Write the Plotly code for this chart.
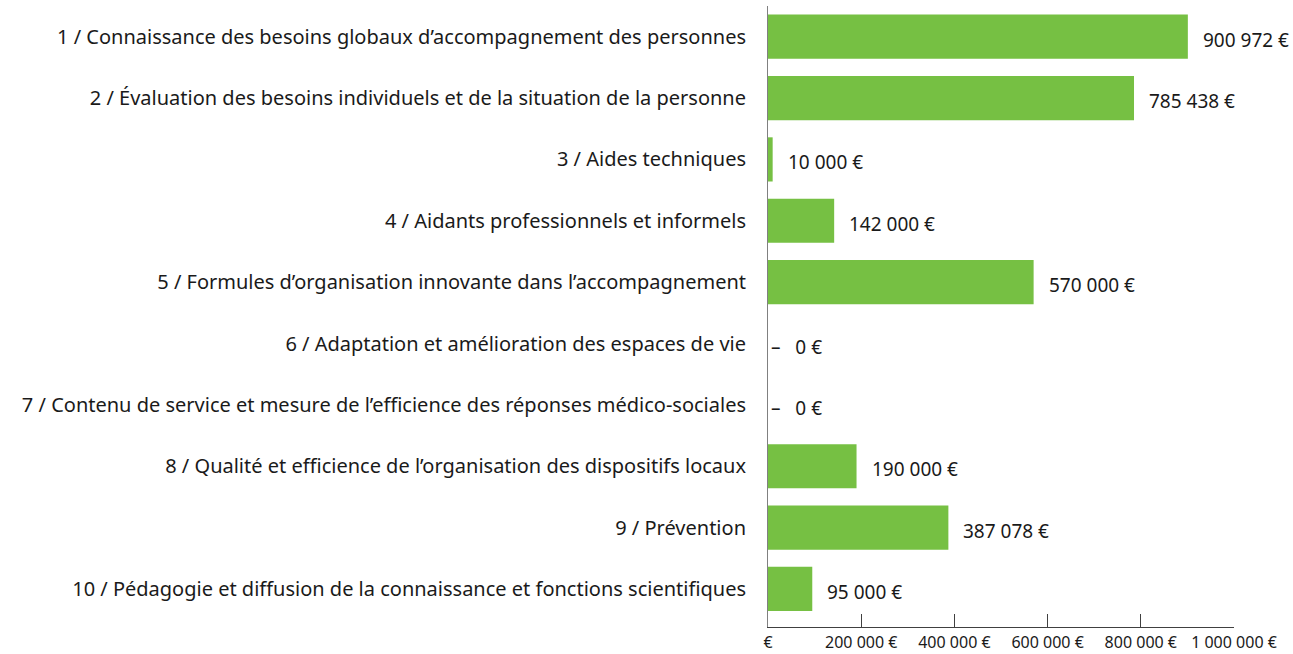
import plotly.graph_objects as go

categories = [
    "1 / Connaissance des besoins globaux d’accompagnement des personnes",
    "2 / Évaluation des besoins individuels et de la situation de la personne",
    "3 / Aides techniques",
    "4 / Aidants professionnels et informels",
    "5 / Formules d’organisation innovante dans l’accompagnement",
    "6 / Adaptation et amélioration des espaces de vie",
    "7 / Contenu de service et mesure de l’efficience des réponses médico-sociales",
    "8 / Qualité et efficience de l’organisation des dispositifs locaux",
    "9 / Prévention",
    "10 / Pédagogie et diffusion de la connaissance et fonctions scientifiques",
]
amounts = [900972, 785438, 10000, 142000, 570000, 0, 0, 190000, 387078, 95000]
x_ticks = [0, 200000, 400000, 600000, 800000, 1000000]
x_tick_labels = ["€", "200 000 €", "400 000 €", "600 000 €", "800 000 €", "1 000 000 €"]

GREEN = "#76C043"
FONT = "Noto Sans"


def euro(v):
    s = f"{v:,}".replace(",", " ")
    return "–   0 €" if v == 0 else f"{s} €"


positions = list(range(len(categories)))

fig = go.Figure(
    go.Bar(
        x=amounts,
        y=positions,
        orientation="h",
        marker=dict(color=GREEN, line=dict(width=0)),
        width=0.72,
        hoverinfo="skip",
    )
)

for pos, v in zip(positions, amounts):
    fig.add_annotation(
        x=v, y=pos, text=euro(v), showarrow=False,
        xanchor="left", yanchor="middle",
        xshift=13 if v else 1, yshift=-3,
        font=dict(family=FONT, size=19, color="#1a1a1a"),
    )

fig.update_layout(
    width=1293, height=654,
    margin=dict(l=768, r=59, t=6, b=27, autoexpand=False),
    paper_bgcolor="white", plot_bgcolor="white",
    showlegend=False,
    font=dict(family=FONT, color="#1a1a1a"),
    xaxis=dict(
        range=[0, 1000000],
        tickvals=x_ticks, ticktext=x_tick_labels,
        showgrid=False, zeroline=False,
        showline=True, linecolor="#404040", linewidth=1,
        ticks="inside", ticklen=13, tickcolor="#404040",
        ticklabelstandoff=1,
        tickfont=dict(family=FONT, size=16, color="#1a1a1a"),
        fixedrange=True,
    ),
    yaxis=dict(
        range=[9.62, -0.5],
        tickvals=positions, ticktext=categories,
        showgrid=False, zeroline=False,
        showline=True, linecolor="#808080", linewidth=1,
        ticks="", ticklabelstandoff=17,
        tickfont=dict(family=FONT, size=20, color="#1a1a1a"),
        fixedrange=True,
    ),
)

fig.write_html("out.html")
